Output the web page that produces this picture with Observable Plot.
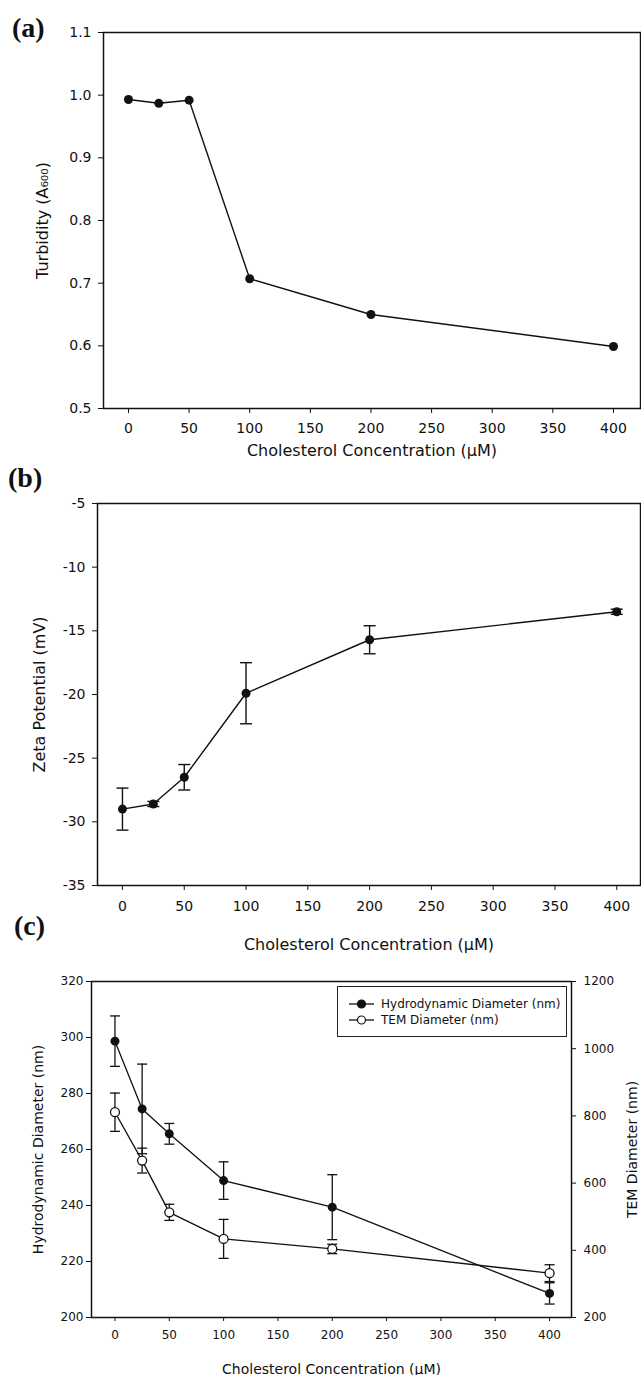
<!DOCTYPE html>
<html><head><meta charset="utf-8">
<script src="https://cdn.jsdelivr.net/npm/d3@7"></script>
<script src="https://cdn.jsdelivr.net/npm/@observablehq/plot@0.6"></script>
<style>
body{margin:0;background:#fff;}
#wrap{position:relative;width:641px;height:1375px;overflow:hidden;font-family:"DejaVu Sans",sans-serif;background:#fff;}
#wrap svg{display:block;}
.plabel{position:absolute;font-family:"Liberation Serif",serif;font-weight:bold;font-size:28px;line-height:28px;color:#111;}
#legend{position:absolute;left:337px;top:986px;width:230px;height:51px;border:1px solid #222;box-sizing:border-box;font-size:12px;color:#111;}
#legend .row{position:absolute;left:10px;height:14px;line-height:14px;white-space:nowrap;}
#legend .row svg{display:inline-block;vertical-align:top;}
#legend .row span{position:absolute;left:33px;top:0;}
</style></head><body><div id="wrap"></div>
<script>
// ---- data ----
const conc = [0, 25, 50, 100, 200, 400];
const turbidity = [0.993, 0.987, 0.992, 0.707, 0.650, 0.599];
const zeta = [-29.0, -28.6, -26.5, -19.9, -15.7, -13.5];
const zetaErr = [1.65, 0.2, 1.0, 2.4, 1.1, 0.2];
const hydro = [298.7, 274.5, 265.6, 248.9, 239.4, 208.6];
const hydroErr = [9.0, 16.0, 3.7, 6.7, 11.6, 3.8];
const tem = [811, 667, 513, 434, 404, 332];
const temErr = [57, 37, 24, 58, 14, 25];

const xTicks = [0, 50, 100, 150, 200, 250, 300, 350, 400];
const aTicks = [0.5, 0.6, 0.7, 0.8, 0.9, 1.0, 1.1];
const bTicks = [-35, -30, -25, -20, -15, -10, -5];
const cTicks = [200, 220, 240, 260, 280, 300, 320];
const temTicks = [200, 400, 600, 800, 1000, 1200];

const xTitle = "Cholesterol Concentration (\u00B5M)";
const aTitle = "Turbidity (A\u2086\u2080\u2080)";
const bTitle = "Zeta Potential (mV)";
const cTitle = "Hydrodynamic Diameter (nm)";
const cRightTitle = "TEM Diameter (nm)";
const legendLabels = ["Hydrodynamic Diameter (nm)", "TEM Diameter (nm)"];

// ---- helpers ----
const W = 641;
const style = {fontFamily: "DejaVu Sans", fontSize: "13px", color: "#111", background: "white", overflow: "visible"};
const cap = w => ({draw(ctx) { ctx.moveTo(-w / 2, 0); ctx.lineTo(w / 2, 0); }});
const plain = d => String(d);

function titleX(label, offset, size) {
  return Plot.axisX({ticks: [], tickSize: 0, label, labelAnchor: "center", labelArrow: "none", labelOffset: offset, fontSize: size});
}
function titleY(label, offset, size, anchor = "left") {
  return Plot.axisY({anchor, ticks: [], tickSize: 0, label, labelAnchor: "center", labelArrow: "none", labelOffset: offset, fontSize: size});
}

// ---- panel a ----
const dataA = conc.map((x, i) => ({x, y: turbidity[i]}));
const plotA = Plot.plot({
  width: W, height: 465, marginTop: 32, marginBottom: 57, marginLeft: 103, marginRight: 1,
  style,
  x: {domain: [-20.6, 422.3]},
  y: {domain: [0.5, 1.1]},
  marks: [
    Plot.axisX({ticks: xTicks, tickSize: 5, tickPadding: 10, fontSize: 14, tickFormat: plain, label: null}),
    titleX(xTitle, 47, 16),
    Plot.axisY({ticks: aTicks, tickSize: 5, tickPadding: 7, fontSize: 14, tickFormat: d3.format(".1f"), label: null}),
    titleY(aTitle, 67, 16),
    Plot.frame({stroke: "#111", strokeWidth: 1.5}),
    Plot.line(dataA, {x: "x", y: "y", stroke: "#111", strokeWidth: 1.4}),
    Plot.dot(dataA, {x: "x", y: "y", r: 4.5, fill: "#111"})
  ]
});

// ---- panel b ----
const dataB = conc.map((x, i) => ({x, y: zeta[i], e: zetaErr[i]}));
const plotB = Plot.plot({
  width: W, height: 465, marginTop: 38, marginBottom: 45, marginLeft: 97, marginRight: 1,
  style,
  x: {domain: [-20.2, 419.2]},
  y: {domain: [-35, -5]},
  marks: [
    Plot.axisX({ticks: xTicks, tickSize: 5, tickPadding: 11, fontSize: 14, tickFormat: plain, label: null}),
    titleX(xTitle, 64, 16),
    Plot.axisY({ticks: bTicks, tickSize: 5, tickPadding: 7, fontSize: 14, tickFormat: plain, label: null}),
    titleY(bTitle, 64, 16),
    Plot.frame({stroke: "#111", strokeWidth: 1.5}),
    Plot.ruleX(dataB, {x: "x", y1: d => d.y - d.e, y2: d => d.y + d.e, stroke: "#111", strokeWidth: 1.4}),
    Plot.dot(dataB, {x: "x", y: d => d.y + d.e, symbol: cap(12), fill: "none", stroke: "#111", strokeWidth: 1.4}),
    Plot.dot(dataB, {x: "x", y: d => d.y - d.e, symbol: cap(12), fill: "none", stroke: "#111", strokeWidth: 1.4}),
    Plot.line(dataB, {x: "x", y: "y", stroke: "#111", strokeWidth: 1.4}),
    Plot.dot(dataB, {x: "x", y: "y", r: 4.5, fill: "#111"})
  ]
});

// ---- panel c ----
const temToLeft = d3.scaleLinear([200, 1200], [200, 320]);
const dataH = conc.map((x, i) => ({x, y: hydro[i], e: hydroErr[i]}));
const dataT = conc.map((x, i) => ({x, y: temToLeft(tem[i]), lo: temToLeft(tem[i] - temErr[i]), hi: temToLeft(tem[i] + temErr[i])}));
const errMarks = (data, lo, hi) => [
  Plot.ruleX(data, {x: "x", y1: lo, y2: hi, stroke: "#111", strokeWidth: 1.3}),
  Plot.dot(data, {x: "x", y: lo, symbol: cap(10), fill: "none", stroke: "#111", strokeWidth: 1.3}),
  Plot.dot(data, {x: "x", y: hi, symbol: cap(10), fill: "none", stroke: "#111", strokeWidth: 1.3})
];
const plotC = Plot.plot({
  width: W, height: 445, marginTop: 51, marginBottom: 58, marginLeft: 91, marginRight: 70,
  style,
  x: {domain: [-21.6, 420.2]},
  y: {domain: [200, 320]},
  marks: [
    Plot.axisX({ticks: xTicks, tickSize: 4, tickPadding: 9, fontSize: 12, tickFormat: plain, label: null}),
    titleX(xTitle, 56, 14),
    Plot.axisY({ticks: cTicks, tickSize: 5, tickPadding: 3, fontSize: 12, tickFormat: plain, label: null}),
    titleY(cTitle, 58, 14),
    Plot.axisY({anchor: "right", ticks: temTicks.map(temToLeft), tickFormat: d => String(Math.round(temToLeft.invert(d))), tickSize: 4, tickPadding: 8, fontSize: 12, label: null}),
    titleY(cRightTitle, 65, 14, "right"),
    Plot.frame({stroke: "#111", strokeWidth: 1.5}),
    ...errMarks(dataH, d => d.y - d.e, d => d.y + d.e),
    ...errMarks(dataT, "lo", "hi"),
    Plot.line(dataH, {x: "x", y: "y", stroke: "#111", strokeWidth: 1.3}),
    Plot.line(dataT, {x: "x", y: "y", stroke: "#111", strokeWidth: 1.3}),
    Plot.dot(dataH, {x: "x", y: "y", r: 4.5, fill: "#111"}),
    Plot.dot(dataT, {x: "x", y: "y", r: 4.5, fill: "white", stroke: "#111", strokeWidth: 1.3})
  ]
});

const wrap = document.getElementById("wrap");
wrap.append(plotA, plotB, plotC);

// panel letters
[["(a)", 12, 13.6], ["(b)", 8, 463.6], ["(c)", 14, 911.6]].forEach(([t, l, tp]) => {
  const d = document.createElement("div");
  d.className = "plabel"; d.textContent = t;
  d.style.left = l + "px"; d.style.top = tp + "px";
  wrap.append(d);
});

// legend
const leg = document.createElement("div");
leg.id = "legend";
legendLabels.forEach((lab, i) => {
  const row = document.createElement("div");
  row.className = "row";
  row.style.top = (i === 0 ? 10 : 26) + "px";
  const filled = i === 0;
  row.innerHTML = `<svg width="28" height="14"><line x1="1" x2="26" y1="7" y2="7" stroke="#111" stroke-width="1.3"/><circle cx="13.5" cy="7" r="4" fill="${filled ? "#111" : "white"}" stroke="#111" stroke-width="1.2"/></svg>`;
  const s = document.createElement("span");
  s.textContent = lab;
  row.append(s);
  leg.append(row);
});
wrap.append(leg);
</script></body></html>
